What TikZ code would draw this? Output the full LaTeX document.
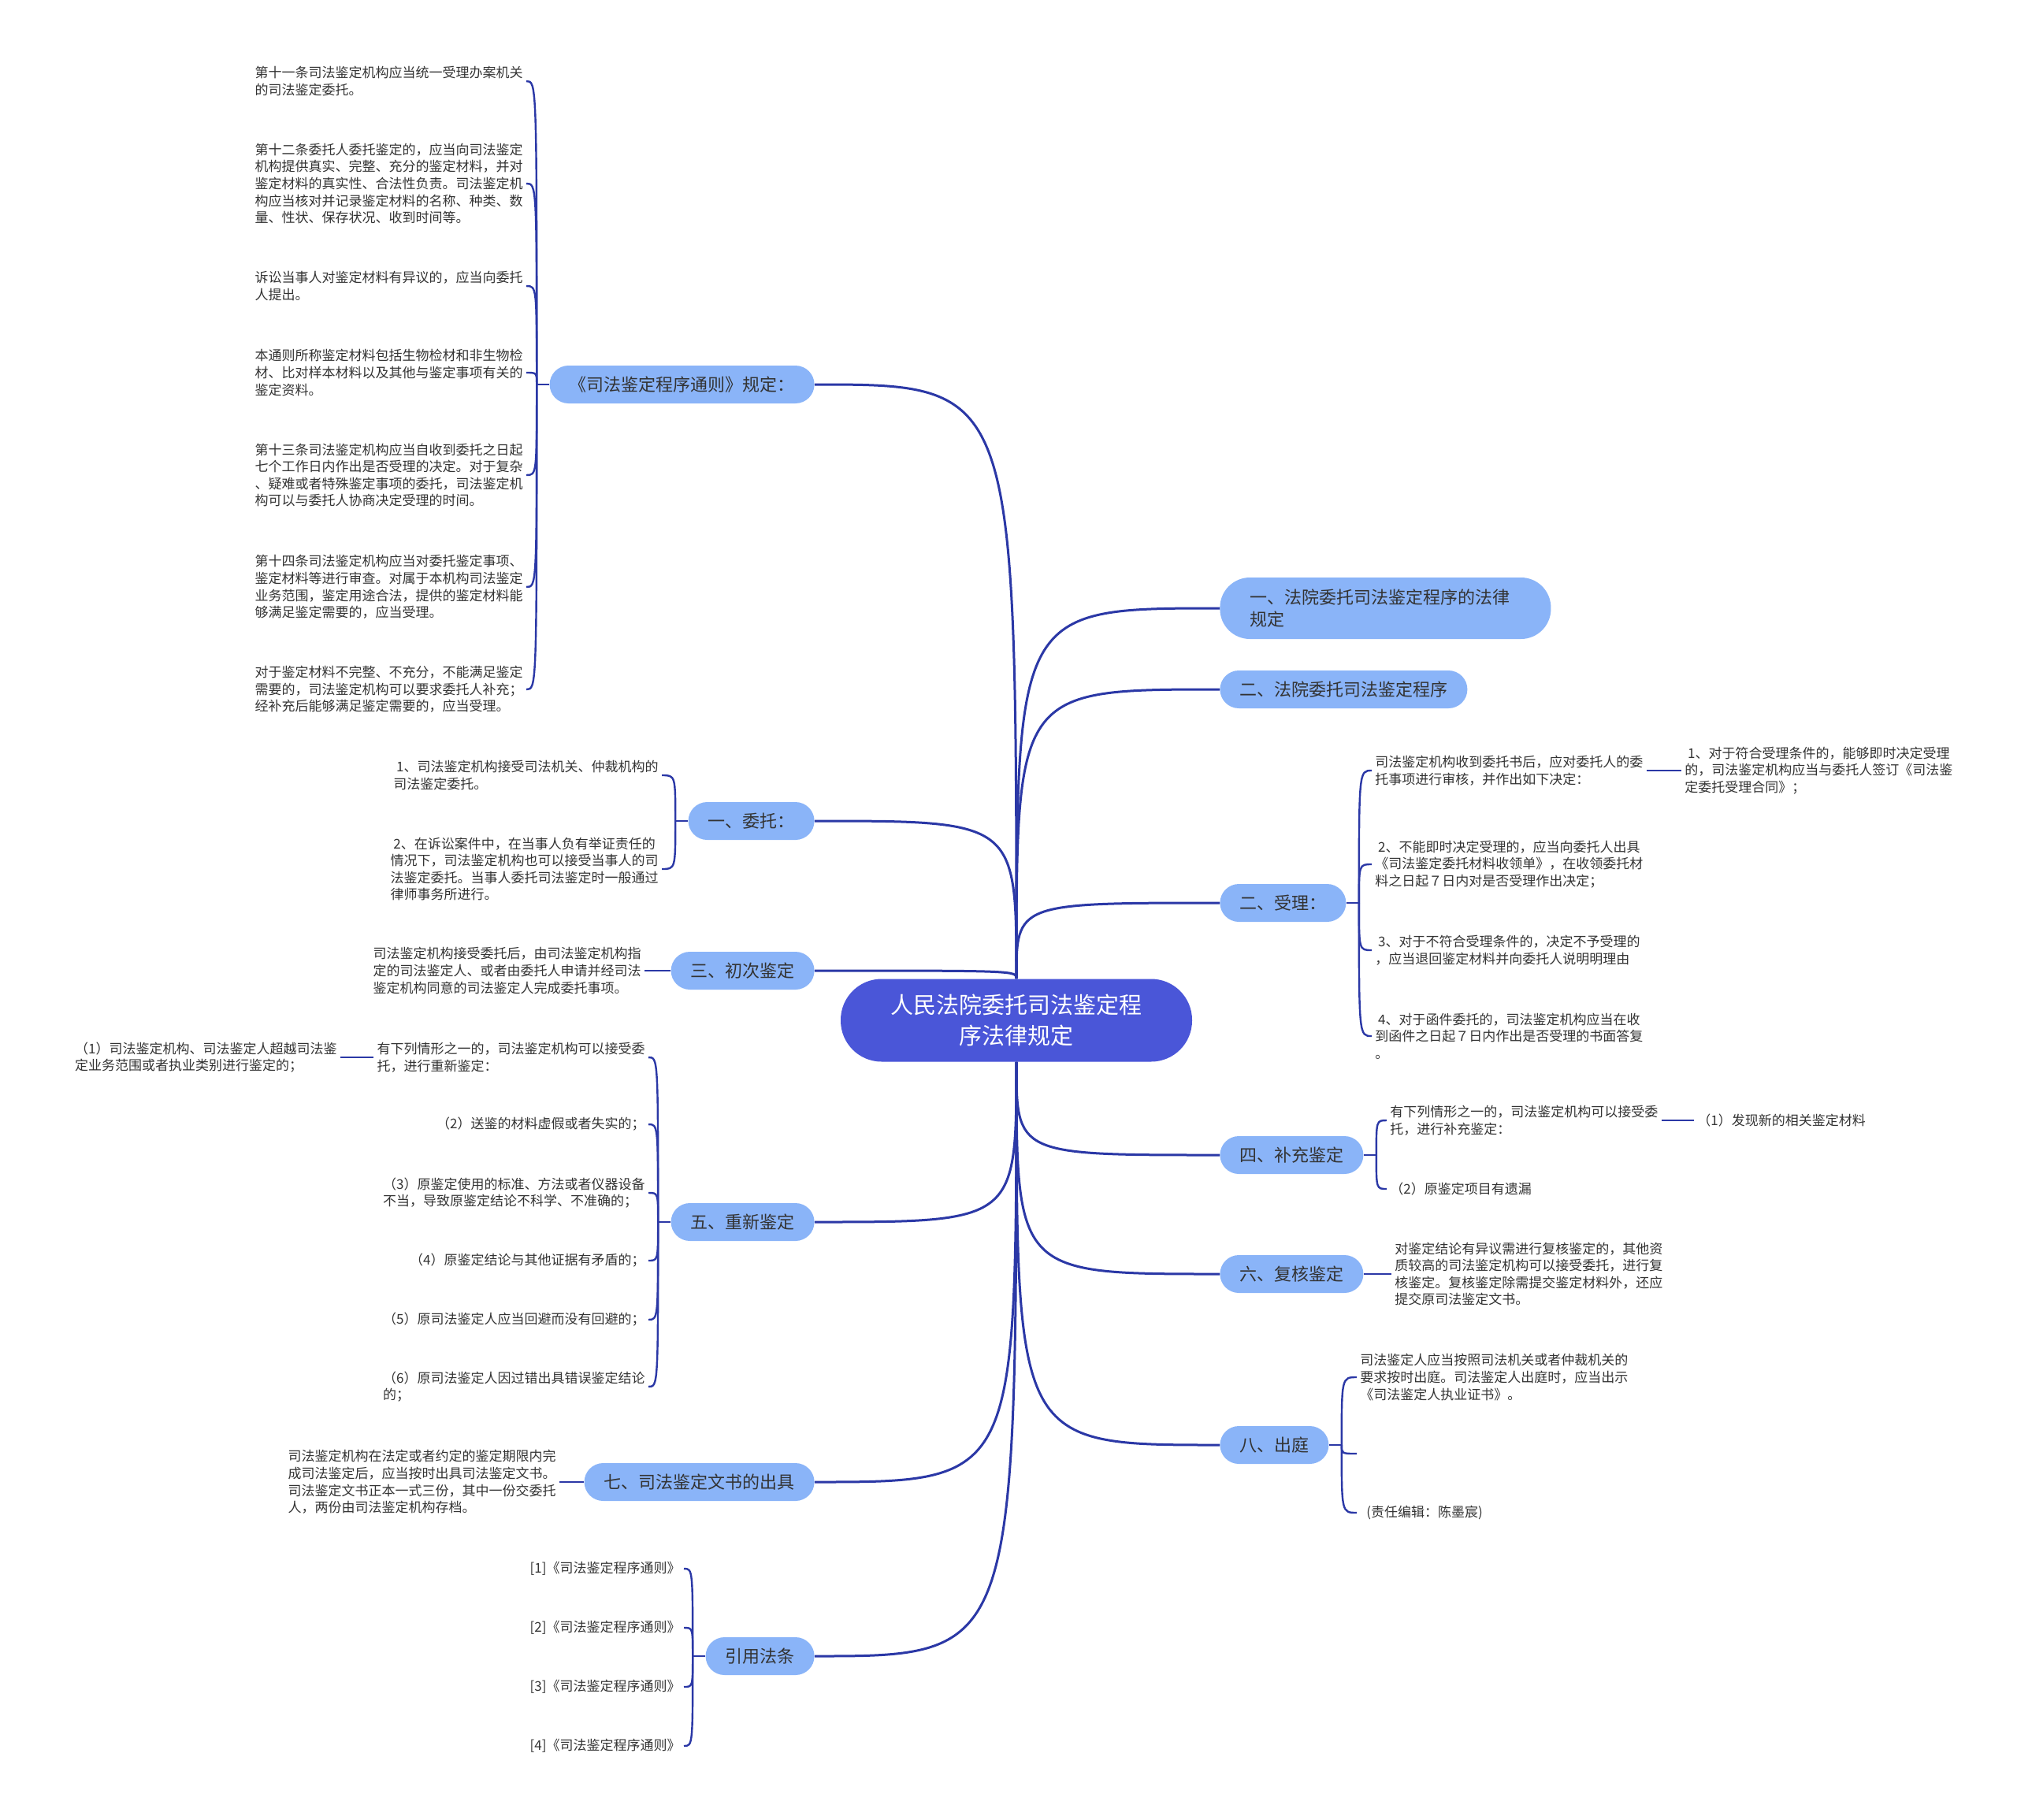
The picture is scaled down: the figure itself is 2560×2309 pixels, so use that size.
\documentclass[tikz,border=0pt]{standalone}
\usepackage{fontspec}
\setmainfont{Noto Sans CJK SC}
\usetikzlibrary{positioning}

\definecolor{rootblue}{HTML}{4A56D8}
\definecolor{branchblue}{HTML}{8AB4F8}
\definecolor{linkblue}{HTML}{2B38A6}
\definecolor{inkgray}{HTML}{333333}

\begin{document}
\begin{tikzpicture}[x=0.5pt, y=-0.5pt,
  root/.style={fill=rootblue, text=white, rounded corners=26pt, minimum width=223pt,
    minimum height=52.5pt, align=center, font=\fontsize{14.5pt}{19.6pt}\selectfont},
  branch/.style={fill=branchblue, text=inkgray, rounded corners=12pt, minimum height=24pt,
    inner xsep=12.5pt, font=\fontsize{11pt}{14pt}\selectfont},
  leaf/.style={text=inkgray, inner sep=2pt, align=left, font=\fontsize{8.5pt}{10.8pt}\selectfont},
  trunk/.style={draw=linkblue, line width=1.5pt},
  twig/.style={draw=linkblue, line width=1.2pt},
  curve/.style={to path={.. controls (\tikztostart |- \tikztotarget) .. (\tikztotarget)}}]

  \path[use as bounding box, fill=white] (0,0) rectangle (2560,2309);

  % centre
  \node[root] (root) at (1290,1295) {人民法院委托司法鉴定程\\序法律规定};

  % left branches
  \node[branch, anchor=east] (rule) at (1034,488) {《司法鉴定程序通则》规定：};
  \node[branch, anchor=east] (entrust) at (1034,1042) {一、委托：};
  \node[branch, anchor=east] (first) at (1034,1232) {三、初次鉴定};
  \node[branch, anchor=east] (redo) at (1034,1551) {五、重新鉴定};
  \node[branch, anchor=east] (paper) at (1034,1881) {七、司法鉴定文书的出具};
  \node[branch, anchor=east] (cite) at (1034,2102) {引用法条};

  % right branches
  \node[branch, anchor=west, text width=172pt, inner xsep=19pt, rounded corners=19pt,
    minimum height=39pt, align=left] (law) at (1548,772) {一、法院委托司法鉴定程序的法律\\规定};
  \node[branch, anchor=west] (proc) at (1548,875) {二、法院委托司法鉴定程序};
  \node[branch, anchor=west] (accept) at (1548,1146) {二、受理：};
  \node[branch, anchor=west] (supp) at (1548,1466) {四、补充鉴定};
  \node[branch, anchor=west] (review) at (1548,1617) {六、复核鉴定};
  \node[branch, anchor=west] (court) at (1548,1834) {八、出庭};

  % junctions of the brackets
  \coordinate[left=8pt of rule] (rulej);
  \coordinate[left=8pt of entrust] (entrustj);
  \coordinate[left=8pt of redo] (redoj);
  \coordinate[left=8pt of cite] (citej);
  \coordinate[right=8pt of accept] (acceptj);
  \coordinate[right=8pt of supp] (suppj);
  \coordinate[right=8pt of court] (courtj);

  % rule leaves
  \node[leaf, anchor=east] (rule1) at (668,103) {第十一条司法鉴定机构应当统一受理办案机关\\的司法鉴定委托。};
  \node[leaf, anchor=east] (rule2) at (668,233) {第十二条委托人委托鉴定的，应当向司法鉴定\\机构提供真实、完整、充分的鉴定材料，并对\\鉴定材料的真实性、合法性负责。司法鉴定机\\构应当核对并记录鉴定材料的名称、种类、数\\量、性状、保存状况、收到时间等。};
  \node[leaf, anchor=east] (rule3) at (668,363) {诉讼当事人对鉴定材料有异议的，应当向委托\\人提出。};
  \node[leaf, anchor=east] (rule4) at (668,473) {本通则所称鉴定材料包括生物检材和非生物检\\材、比对样本材料以及其他与鉴定事项有关的\\鉴定资料。};
  \node[leaf, anchor=east] (rule5) at (668,603) {第十三条司法鉴定机构应当自收到委托之日起\\七个工作日内作出是否受理的决定。对于复杂\\、疑难或者特殊鉴定事项的委托，司法鉴定机\\构可以与委托人协商决定受理的时间。};
  \node[leaf, anchor=east] (rule6) at (668,745) {第十四条司法鉴定机构应当对委托鉴定事项、\\鉴定材料等进行审查。对属于本机构司法鉴定\\业务范围，鉴定用途合法，提供的鉴定材料能\\够满足鉴定需要的，应当受理。};
  \node[leaf, anchor=east] (rule7) at (668,875) {对于鉴定材料不完整、不充分，不能满足鉴定\\需要的，司法鉴定机构可以要求委托人补充；\\经补充后能够满足鉴定需要的，应当受理。};

  % entrust leaves
  \node[leaf, anchor=east] (entrust1) at (840,984) {\ 1、司法鉴定机构接受司法机关、仲裁机构的\\司法鉴定委托。};
  \node[leaf, anchor=east] (entrust2) at (840,1103) {\ 2、在诉讼案件中，在当事人负有举证责任的\\情况下，司法鉴定机构也可以接受当事人的司\\法鉴定委托。当事人委托司法鉴定时一般通过\\律师事务所进行。};

  % first leaf
  \node[leaf, anchor=east] (first1) at (818,1232) {司法鉴定机构接受委托后，由司法鉴定机构指\\定的司法鉴定人、或者由委托人申请并经司法\\鉴定机构同意的司法鉴定人完成委托事项。};

  % redo leaves
  \node[leaf, anchor=east] (redo1) at (823,1342) {有下列情形之一的，司法鉴定机构可以接受委\\托，进行重新鉴定：};
  \node[leaf, anchor=east] (redo1a) at (432,1342) {（1）司法鉴定机构、司法鉴定人超越司法鉴\\定业务范围或者执业类别进行鉴定的；};
  \node[leaf, anchor=east] (redo2) at (823,1427) {（2）送鉴的材料虚假或者失实的；};
  \node[leaf, anchor=east] (redo3) at (823,1514) {（3）原鉴定使用的标准、方法或者仪器设备\\不当，导致原鉴定结论不科学、不准确的；};
  \node[leaf, anchor=east] (redo4) at (823,1600) {（4）原鉴定结论与其他证据有矛盾的；};
  \node[leaf, anchor=east] (redo5) at (823,1675) {（5）原司法鉴定人应当回避而没有回避的；};
  \node[leaf, anchor=east] (redo6) at (823,1760) {（6）原司法鉴定人因过错出具错误鉴定结论\\的；};

  % paper leaf
  \node[leaf, anchor=east] (paper1) at (710,1881) {司法鉴定机构在法定或者约定的鉴定期限内完\\成司法鉴定后，应当按时出具司法鉴定文书。\\司法鉴定文书正本一式三份，其中一份交委托\\人，两份由司法鉴定机构存档。};

  % cite leaves
  \node[leaf, anchor=east] (cite1) at (868,1991) {[1]《司法鉴定程序通则》};
  \node[leaf, anchor=east] (cite2) at (868,2066) {[2]《司法鉴定程序通则》};
  \node[leaf, anchor=east] (cite3) at (868,2141) {[3]《司法鉴定程序通则》};
  \node[leaf, anchor=east] (cite4) at (868,2216) {[4]《司法鉴定程序通则》};

  % accept leaves
  \node[leaf, anchor=west] (accept1) at (1741,978) {司法鉴定机构收到委托书后，应对委托人的委\\托事项进行审核，并作出如下决定：};
  \node[leaf, anchor=west] (accept1a) at (2134,978) {\ 1、对于符合受理条件的，能够即时决定受理\\的，司法鉴定机构应当与委托人签订《司法鉴\\定委托受理合同》；};
  \node[leaf, anchor=west] (accept2) at (1741,1097) {\ 2、不能即时决定受理的，应当向委托人出具\\《司法鉴定委托材料收领单》，在收领委托材\\料之日起７日内对是否受理作出决定；};
  \node[leaf, anchor=west] (accept3) at (1741,1206) {\ 3、对于不符合受理条件的，决定不予受理的\\，应当退回鉴定材料并向委托人说明明理由};
  \node[leaf, anchor=west] (accept4) at (1741,1315) {\ 4、对于函件委托的，司法鉴定机构应当在收\\到函件之日起７日内作出是否受理的书面答复\\。};

  % supp leaves
  \node[leaf, anchor=west] (supp1) at (1760,1422) {有下列情形之一的，司法鉴定机构可以接受委\\托，进行补充鉴定：};
  \node[leaf, anchor=west] (supp1a) at (2150,1422) {（1）发现新的相关鉴定材料};
  \node[leaf, anchor=west] (supp2) at (1760,1509) {（2）原鉴定项目有遗漏};

  % review leaf
  \node[leaf, anchor=west] (review1) at (1766,1617) {对鉴定结论有异议需进行复核鉴定的，其他资\\质较高的司法鉴定机构可以接受委托，进行复\\核鉴定。复核鉴定除需提交鉴定材料外，还应\\提交原司法鉴定文书。};

  % court leaves
  \node[leaf, anchor=west] (court1) at (1722,1748) {司法鉴定人应当按照司法机关或者仲裁机关的\\要求按时出庭。司法鉴定人出庭时，应当出示\\《司法鉴定人执业证书》。};
  \coordinate (court2) at (1722,1845);
  \node[leaf, anchor=west] (court3) at (1730,1920) {(责任编辑：陈墨宸)};

  % trunk links
  \path[trunk]
    (root.north) edge[curve] (rule.east)
    (root.north) edge[curve] (entrust.east)
    (root.north) edge[curve] (first.east)
    (root.north) edge[curve] (law.west)
    (root.north) edge[curve] (proc.west)
    (root.north) edge[curve] (accept.west)
    (root.south) edge[curve] (redo.east)
    (root.south) edge[curve] (paper.east)
    (root.south) edge[curve] (cite.east)
    (root.south) edge[curve] (supp.west)
    (root.south) edge[curve] (review.west)
    (root.south) edge[curve] (court.west);

  % brackets
  \path[twig] (rule.west) -- (rulej)
    (rulej) edge[curve] (rule1.east) edge[curve] (rule2.east) edge[curve] (rule3.east)
    edge[curve] (rule4.east) edge[curve] (rule5.east) edge[curve] (rule6.east) edge[curve] (rule7.east);
  \path[twig] (entrust.west) -- (entrustj)
    (entrustj) edge[curve] (entrust1.east) edge[curve] (entrust2.east);
  \path[twig] (redo.west) -- (redoj)
    (redoj) edge[curve] (redo1.east) edge[curve] (redo2.east) edge[curve] (redo3.east)
    edge[curve] (redo4.east) edge[curve] (redo5.east) edge[curve] (redo6.east);
  \path[twig] (cite.west) -- (citej)
    (citej) edge[curve] (cite1.east) edge[curve] (cite2.east) edge[curve] (cite3.east) edge[curve] (cite4.east);
  \path[twig] (accept.east) -- (acceptj)
    (acceptj) edge[curve] (accept1.west) edge[curve] (accept2.west) edge[curve] (accept3.west) edge[curve] (accept4.west);
  \path[twig] (supp.east) -- (suppj)
    (suppj) edge[curve] (supp1.west) edge[curve] (supp2.west);
  \path[twig] (court.east) -- (courtj)
    (courtj) edge[curve] (court1.west) edge[curve] (court2) edge[curve] ([xshift=-4pt]court3.west);

  % single links
  \path[twig] (first.west) -- (first1.east);
  \path[twig] (paper.west) -- (paper1.east);
  \path[twig] (redo1.west) -- (redo1a.east);
  \path[twig] (accept1.east) -- (accept1a.west);
  \path[twig] (supp1.east) -- (supp1a.west);
  \path[twig] (review.east) -- (review1.west);
\end{tikzpicture}
\end{document}
